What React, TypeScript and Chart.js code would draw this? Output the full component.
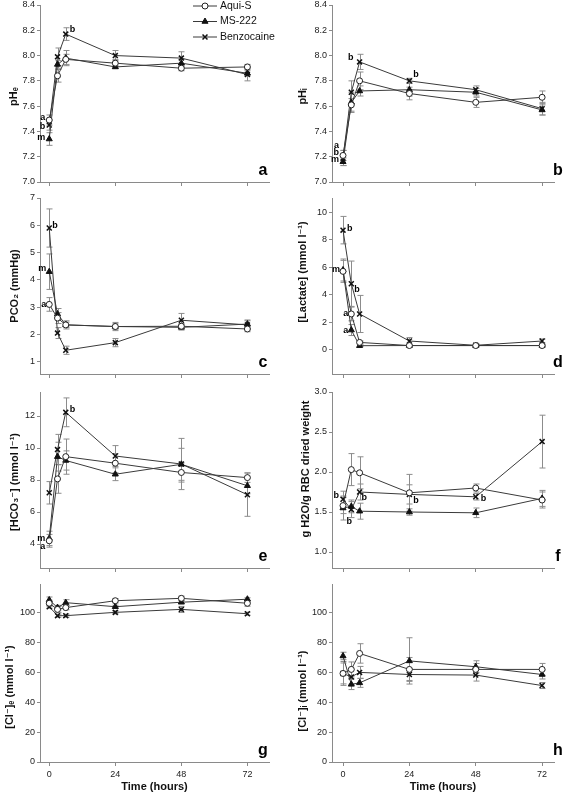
import React, { useEffect, useRef } from 'react';
import { Chart, registerables } from 'chart.js';

Chart.register(...registerables);

const FONT = '"Liberation Sans", Arial, "DejaVu Sans", sans-serif';

// ---------- data ----------
const TIMES = [0, 3, 6, 24, 48, 72];
const X_TICKS = [0, 24, 48, 72];
const SERIES_NAMES = ['Aqui-S', 'MS-222', 'Benzocaine'];

// a: pHe  (rows: Aqui-S, MS-222, Benzocaine)
const PHE = [
  [7.49, 7.84, 7.97, 7.94, 7.90, 7.91],
  [7.34, 7.93, 7.98, 7.91, 7.94, 7.86],
  [7.45, 7.99, 8.17, 8.00, 7.98, 7.85],
];
const PHE_SE = [
  [0.04, 0.05, 0.04, 0.03, 0.02, 0.02],
  [0.05, 0.03, 0.06, 0.01, 0.03, 0.02],
  [0.04, 0.07, 0.05, 0.04, 0.05, 0.05],
];
// b: pHi
const PHI = [
  [7.21, 7.61, 7.80, 7.70, 7.63, 7.67],
  [7.16, 7.63, 7.72, 7.73, 7.71, 7.57],
  [7.19, 7.71, 7.95, 7.80, 7.73, 7.58],
];
const PHI_SE = [
  [0.04, 0.05, 0.07, 0.05, 0.04, 0.05],
  [0.03, 0.08, 0.04, 0.05, 0.03, 0.04],
  [0.06, 0.09, 0.06, 0.02, 0.03, 0.05],
];
// c: PCO2
const PCO2 = [
  [3.10, 2.60, 2.35, 2.29, 2.30, 2.20],
  [4.30, 2.75, 2.35, 2.29, 2.26, 2.38],
  [5.90, 2.05, 1.42, 1.70, 2.52, 2.35],
];
const PCO2_SE = [
  [0.25, 0.20, 0.10, 0.10, 0.10, 0.10],
  [0.65, 0.20, 0.15, 0.15, 0.10, 0.15],
  [0.70, 0.20, 0.15, 0.15, 0.25, 0.15],
];
// d: Lactate
const LAC = [
  [5.70, 2.60, 0.53, 0.30, 0.30, 0.30],
  [5.80, 1.43, 0.29, 0.30, 0.30, 0.30],
  [8.70, 4.80, 2.60, 0.63, 0.32, 0.63],
];
const LAC_SE = [
  [0.80, 0.50, 0.10, 0.05, 0.05, 0.05],
  [0.80, 0.40, 0.05, 0.05, 0.05, 0.05],
  [1.00, 1.65, 1.35, 0.25, 0.10, 0.15],
];
// e: HCO3-
const HCO3 = [
  [4.20, 8.07, 9.46, 9.05, 8.47, 8.15],
  [4.35, 9.46, 9.22, 8.36, 8.98, 7.64],
  [7.20, 9.90, 12.23, 9.50, 9.00, 7.08],
];
const HCO3_SE = [
  [0.40, 0.90, 1.10, 0.60, 0.60, 0.30],
  [0.45, 0.90, 0.60, 0.40, 1.00, 0.50],
  [0.70, 0.95, 0.90, 0.65, 1.60, 1.35],
];
// f: RBC water
const WATER = [
  [1.58, 2.03, 1.99, 1.74, 1.80, 1.65],
  [1.55, 1.57, 1.51, 1.50, 1.49, 1.67],
  [1.66, 1.53, 1.75, 1.72, 1.69, 2.38],
];
const WATER_SE = [
  [0.10, 0.20, 0.20, 0.23, 0.05, 0.10],
  [0.15, 0.08, 0.10, 0.04, 0.06, 0.10],
  [0.10, 0.10, 0.10, 0.12, 0.04, 0.33],
];
// g: Cl- e
const CLE = [
  [106.3, 102.2, 103.4, 108.0, 109.6, 106.3],
  [108.5, 103.4, 106.7, 104.0, 107.0, 109.0],
  [104.0, 98.0, 98.0, 100.2, 102.2, 99.3],
];
const CLE_SE = [
  [2.0, 2.0, 1.5, 1.5, 1.5, 2.0],
  [2.0, 1.5, 2.0, 1.0, 1.0, 1.0],
  [1.0, 1.0, 1.0, 1.0, 2.0, 1.0],
];
// h: Cl- i
const CLI = [
  [59.3, 62.0, 72.7, 62.0, 62.0, 62.0],
  [71.0, 52.0, 53.0, 67.7, 63.8, 58.6],
  [59.3, 57.0, 60.0, 58.6, 58.2, 51.2],
];
const CLI_SE = [
  [7.0, 5.0, 6.5, 8.0, 4.0, 4.0],
  [2.5, 3.5, 3.0, 15.5, 4.0, 3.0],
  [8.0, 5.0, 4.0, 4.0, 4.0, 2.0],
];

const PH_TICKS = [7.0, 7.2, 7.4, 7.6, 7.8, 8.0, 8.2, 8.4];
const PCO2_TICKS = [1, 2, 3, 4, 5, 6, 7];
const LAC_TICKS = [0, 2, 4, 6, 8, 10];
const HCO3_TICKS = [4, 6, 8, 10, 12];
const WATER_TICKS = [1.0, 1.5, 2.0, 2.5, 3.0];
const CL_TICKS = [0, 20, 40, 60, 80, 100];

// ---------- layout ----------
const COLS = [
  { x: 0, w: 283, axisW: 40, padR: 14, xMin: -3.36, xMax: 79.85, letterDx: -6 },
  { x: 283, w: 283, axisW: 49, padR: 12, xMin: -3.98, xMax: 76.3, letterDx: 4 },
];
const ROWS = [
  { y: -5, h: 197, xH: 10 },
  { y: 188, h: 196, xH: 10 },
  { y: 382, h: 196, xH: 10 },
  { y: 574, h: 221, xH: 33 },
];

type Note = { s: number; i: number; text: string; dx: number; dy: number; align: CanvasTextAlign };

type PanelSpec = {
  letter: string; col: number; row: number;
  means: number[][]; errs: number[][];
  yMin: number; yMax: number; yTicks: number[]; dec: number;
  title: string; titleX: number; titleDy: number; notes: Note[]; legend?: boolean;
};

const PANELS: PanelSpec[] = [
  {
    letter: 'a', col: 0, row: 0, means: PHE, errs: PHE_SE, yMin: 7.0, yMax: 8.4, yTicks: PH_TICKS, dec: 1,
    title: 'pHₑ', titleX: 14, titleDy: 3, legend: true,
    notes: [
      { s: 0, i: 0, text: 'a', dx: -4, dy: -3, align: 'right' },
      { s: 2, i: 0, text: 'b', dx: -4, dy: 1, align: 'right' },
      { s: 1, i: 0, text: 'm', dx: -4, dy: -1, align: 'right' },
      { s: 2, i: 2, text: 'b', dx: 4, dy: -5, align: 'left' },
    ],
  },
  {
    letter: 'b', col: 1, row: 0, means: PHI, errs: PHI_SE, yMin: 7.0, yMax: 8.4, yTicks: PH_TICKS, dec: 1,
    title: 'pHᵢ', titleX: 20, titleDy: 3,
    notes: [
      { s: 0, i: 0, text: 'a', dx: -4, dy: -10, align: 'right' },
      { s: 2, i: 0, text: 'b', dx: -4, dy: -5, align: 'right' },
      { s: 1, i: 0, text: 'm', dx: -4, dy: -2, align: 'right' },
      { s: 2, i: 2, text: 'b', dx: -6, dy: -4, align: 'right' },
      { s: 2, i: 3, text: 'b', dx: 4, dy: -6, align: 'left' },
    ],
  },
  {
    letter: 'c', col: 0, row: 1, means: PCO2, errs: PCO2_SE, yMin: 0.55, yMax: 7, yTicks: PCO2_TICKS, dec: 0,
    title: 'PCO₂ (mmHg)', titleX: 15, titleDy: 0,
    notes: [
      { s: 2, i: 0, text: 'b', dx: 3, dy: -2, align: 'left' },
      { s: 1, i: 0, text: 'm', dx: -3, dy: -3, align: 'right' },
      { s: 0, i: 0, text: 'a', dx: -3, dy: 0, align: 'right' },
    ],
  },
  {
    letter: 'd', col: 1, row: 1, means: LAC, errs: LAC_SE, yMin: -1.77, yMax: 11.04, yTicks: LAC_TICKS, dec: 0,
    title: '[Lactate] (mmol l⁻¹)', titleX: 20, titleDy: -14,
    notes: [
      { s: 2, i: 0, text: 'b', dx: 4, dy: -2, align: 'left' },
      { s: 1, i: 0, text: 'm', dx: -3, dy: 0, align: 'right' },
      { s: 2, i: 1, text: 'b', dx: 3, dy: 6, align: 'left' },
      { s: 0, i: 1, text: 'a', dx: -3, dy: 0, align: 'right' },
      { s: 1, i: 1, text: 'a', dx: -3, dy: 0, align: 'right' },
    ],
  },
  {
    letter: 'e', col: 0, row: 2, means: HCO3, errs: HCO3_SE, yMin: 2.5, yMax: 13.5, yTicks: HCO3_TICKS, dec: 0,
    title: '[HCO₃⁻] (mmol l⁻¹)', titleX: 15, titleDy: 2,
    notes: [
      { s: 2, i: 2, text: 'b', dx: 4, dy: -3, align: 'left' },
      { s: 1, i: 0, text: 'm', dx: -4, dy: 0, align: 'right' },
      { s: 0, i: 0, text: 'a', dx: -4, dy: 6, align: 'right' },
    ],
  },
  {
    letter: 'f', col: 1, row: 2, means: WATER, errs: WATER_SE, yMin: 0.8, yMax: 3.0, yTicks: WATER_TICKS, dec: 1,
    title: 'g H2O/g RBC dried weight', titleX: 22.7, titleDy: -11,
    notes: [
      { s: 2, i: 0, text: 'b', dx: -4, dy: -4, align: 'right' },
      { s: 2, i: 1, text: 'b', dx: -2, dy: 12, align: 'center' },
      { s: 2, i: 2, text: 'b', dx: 2, dy: 6, align: 'left' },
      { s: 2, i: 3, text: 'b', dx: 4, dy: 6, align: 'left' },
      { s: 2, i: 4, text: 'b', dx: 5, dy: 2, align: 'left' },
    ],
  },
  {
    letter: 'g', col: 0, row: 3, means: CLE, errs: CLE_SE, yMin: 0, yMax: 119.2, yTicks: CL_TICKS, dec: 0,
    title: '[Cl⁻]ₑ (mmol l⁻¹)', titleX: 10, titleDy: 14, notes: [],
  },
  {
    letter: 'h', col: 1, row: 3, means: CLI, errs: CLI_SE, yMin: 0, yMax: 119.2, yTicks: CL_TICKS, dec: 0,
    title: '[Cl⁻]ᵢ (mmol l⁻¹)', titleX: 20, titleDy: 18, notes: [],
  },
];

// ---------- styles ----------
const LINE_COLOR = '#3a3a3a';
const AXIS_COLOR = '#8a8a8a';
const ERR_COLOR = '#8c8c8c';
const STYLES = [
  { pointStyle: 'circle', pointRadius: 3, pointBackgroundColor: '#ffffff', pointBorderColor: '#222222', pointBorderWidth: 1 },
  { pointStyle: 'triangle', pointRadius: 3.5, pointBackgroundColor: '#111111', pointBorderColor: '#111111', pointBorderWidth: 1 },
  { pointStyle: 'crossRot', pointRadius: 3.5, pointBackgroundColor: '#111111', pointBorderColor: '#111111', pointBorderWidth: 1.5 },
];

function drawMarker(ctx: CanvasRenderingContext2D, style: string, x: number, y: number, r: number) {
  ctx.beginPath();
  if (style === 'circle') {
    ctx.fillStyle = '#fff'; ctx.strokeStyle = '#222'; ctx.lineWidth = 1;
    ctx.arc(x, y, r, 0, Math.PI * 2);
    ctx.fill(); ctx.stroke();
  } else if (style === 'triangle') {
    ctx.fillStyle = '#111'; ctx.strokeStyle = '#111'; ctx.lineWidth = 1;
    let rad = 0;
    ctx.moveTo(x + Math.sin(rad) * r, y - Math.cos(rad) * r);
    rad += (2 * Math.PI) / 3;
    ctx.lineTo(x + Math.sin(rad) * r, y - Math.cos(rad) * r);
    rad += (2 * Math.PI) / 3;
    ctx.lineTo(x + Math.sin(rad) * r, y - Math.cos(rad) * r);
    ctx.closePath();
    ctx.fill(); ctx.stroke();
  } else {
    ctx.strokeStyle = '#111'; ctx.lineWidth = 1.5;
    const o = Math.cos(Math.PI / 4) * r;
    ctx.moveTo(x - o, y - o); ctx.lineTo(x + o, y + o);
    ctx.moveTo(x + o, y - o); ctx.lineTo(x - o, y + o);
    ctx.stroke();
  }
}

const errorBarPlugin = {
  id: 'errorBars',
  beforeDatasetsDraw(chart: any) {
    const { ctx } = chart;
    const yScale = chart.scales.y;
    ctx.save();
    ctx.strokeStyle = ERR_COLOR;
    ctx.lineWidth = 1;
    chart.data.datasets.forEach((ds: any, di: number) => {
      const meta = chart.getDatasetMeta(di);
      (ds.errors || []).forEach((e: number, i: number) => {
        const pt = meta.data[i];
        if (!pt) return;
        const v = ds.data[i].y;
        const yTop = yScale.getPixelForValue(v + e);
        const yBot = yScale.getPixelForValue(v - e);
        const x = Math.round(pt.x) + 0.5;
        ctx.beginPath();
        ctx.moveTo(x, yTop); ctx.lineTo(x, yBot);
        ctx.moveTo(x - 3, yTop); ctx.lineTo(x + 3, yTop);
        ctx.moveTo(x - 3, yBot); ctx.lineTo(x + 3, yBot);
        ctx.stroke();
      });
    });
    ctx.restore();
  },
};

const decorPlugin = {
  id: 'decor',
  afterDatasetsDraw(chart: any, _args: any, opts: any) {
    const { ctx, chartArea } = chart;
    ctx.save();
    // y-axis title
    ctx.save();
    ctx.fillStyle = '#111';
    ctx.font = `bold 11px ${FONT}`;
    ctx.textAlign = 'center';
    ctx.textBaseline = 'middle';
    ctx.translate(opts.titleX, (chartArea.top + chartArea.bottom) / 2 + opts.titleDy);
    ctx.rotate(-Math.PI / 2);
    ctx.fillText(opts.title, 0, 0);
    ctx.restore();
    // panel letter
    ctx.fillStyle = '#000';
    ctx.font = `bold 16px ${FONT}`;
    ctx.textAlign = 'center';
    ctx.textBaseline = 'middle';
    ctx.fillText(opts.letter, chartArea.right + opts.letterDx, chartArea.bottom - 11);
    // significance letters
    ctx.font = `bold 9px ${FONT}`;
    (opts.notes || []).forEach((n: Note) => {
      const pt = chart.getDatasetMeta(n.s).data[n.i];
      if (!pt) return;
      ctx.textAlign = n.align;
      ctx.fillText(n.text, pt.x + n.dx, pt.y + n.dy);
    });
    // legend
    if (opts.legend) {
      const x0 = chartArea.right - 76;
      SERIES_NAMES.forEach((name, si) => {
        const y = chartArea.top + 1 + si * 15.5;
        ctx.strokeStyle = LINE_COLOR;
        ctx.lineWidth = 1;
        ctx.beginPath();
        ctx.moveTo(x0, y); ctx.lineTo(x0 + 24, y);
        ctx.stroke();
        drawMarker(ctx, STYLES[si].pointStyle, x0 + 12, y, STYLES[si].pointRadius);
        ctx.fillStyle = '#111';
        ctx.font = `10.5px ${FONT}`;
        ctx.textAlign = 'left';
        ctx.textBaseline = 'middle';
        ctx.fillText(name, x0 + 27, y);
      });
    }
    ctx.restore();
  },
};

function buildConfig(p: PanelSpec): any {
  const col = COLS[p.col];
  const row = ROWS[p.row];
  const bottomRow = p.row === 3;
  const datasets = p.means.map((vals, si) => ({
    label: SERIES_NAMES[si],
    data: TIMES.map((t, i) => ({ x: t, y: vals[i] })),
    errors: p.errs[si],
    borderColor: LINE_COLOR,
    borderWidth: 1,
    fill: false,
    tension: 0,
    ...STYLES[si],
  }));
  return {
    type: 'line',
    data: { datasets },
    options: {
      responsive: false,
      animation: false,
      layout: { autoPadding: false, padding: { left: 0, top: 10, right: col.padR, bottom: 0 } },
      plugins: {
        legend: { display: false },
        tooltip: { enabled: false },
        decor: {
          letter: p.letter, letterDx: col.letterDx, notes: p.notes, legend: !!p.legend,
          title: p.title, titleX: p.titleX, titleDy: p.titleDy,
        },
      },
      scales: {
        x: {
          type: 'linear',
          min: col.xMin,
          max: col.xMax,
          afterBuildTicks: (axis: any) => { axis.ticks = X_TICKS.map((v) => ({ value: v })); },
          afterFit: (s: any) => { s.height = row.xH; },
          ticks: { display: bottomRow, color: '#222', font: { family: FONT, size: 9 }, padding: 3, maxRotation: 0 },
          grid: { drawOnChartArea: false, drawTicks: true, tickLength: 4, color: AXIS_COLOR },
          border: { display: true, color: AXIS_COLOR, width: 1 },
          title: {
            display: bottomRow,
            text: 'Time (hours)',
            color: '#111',
            font: { family: FONT, size: 11, weight: 'bold' },
            padding: { top: 0, bottom: 1.4 },
          },
        },
        y: {
          type: 'linear',
          min: p.yMin,
          max: p.yMax,
          afterBuildTicks: (axis: any) => { axis.ticks = p.yTicks.map((v) => ({ value: v })); },
          afterFit: (s: any) => { s.width = col.axisW; },
          ticks: {
            color: '#222',
            font: { family: FONT, size: 9 },
            padding: 2,
            callback: (v: any) => Number(v).toFixed(p.dec),
          },
          grid: { drawOnChartArea: false, drawTicks: true, tickLength: 3, color: AXIS_COLOR },
          border: { display: true, color: AXIS_COLOR, width: 1 },
          title: { display: false },
        },
      },
    },
    plugins: [errorBarPlugin, decorPlugin],
  };
}

function Panel({ spec }: { spec: PanelSpec }) {
  const ref = useRef<HTMLCanvasElement | null>(null);
  const col = COLS[spec.col];
  const row = ROWS[spec.row];
  useEffect(() => {
    if (!ref.current) return;
    const chart = new Chart(ref.current, buildConfig(spec));
    return () => chart.destroy();
  }, [spec]);
  return (
    <div style={{ position: 'absolute', left: col.x, top: row.y, width: col.w, height: row.h }}>
      <canvas ref={ref} width={col.w} height={row.h} style={{ display: 'block', width: col.w, height: row.h }} />
    </div>
  );
}

export default function App() {
  return (
    <div style={{ position: 'absolute', left: 0, top: 0, width: 566, height: 795, background: '#fff', overflow: 'hidden' }}>
      {PANELS.map((p) => (
        <Panel key={p.letter} spec={p} />
      ))}
    </div>
  );
}
